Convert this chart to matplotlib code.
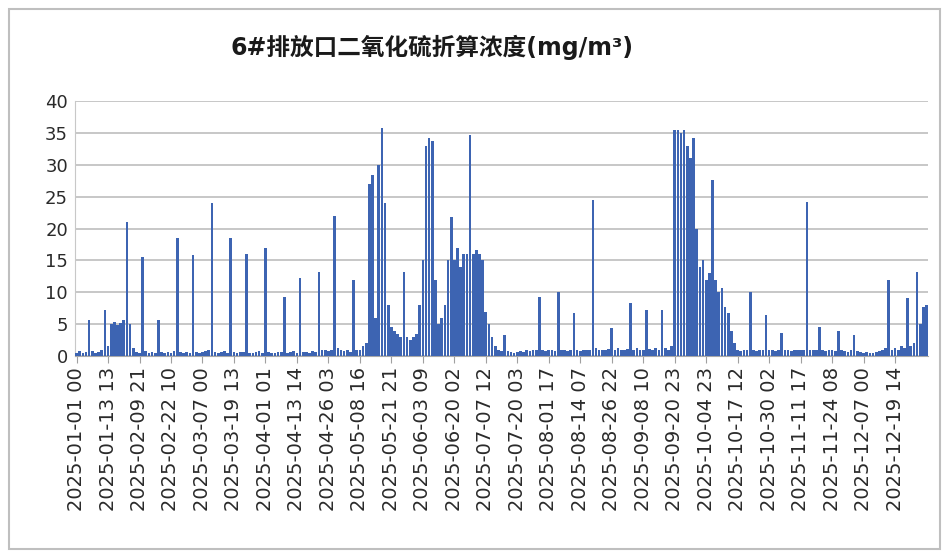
import numpy as np
import matplotlib.pyplot as plt
from matplotlib.patches import Rectangle

plt.rcParams['font.family'] = ['DejaVu Sans', 'Noto Sans CJK SC']

title = "6#排放口二氧化硫折算浓度(mg/m³)"

# category labels shown on the axis (every ~300 hourly records)
tick_labels = ["2025-01-01 00", "2025-01-13 13", "2025-02-09 21", "2025-02-22 10",
               "2025-03-07 00", "2025-03-19 13", "2025-04-01 01", "2025-04-13 14",
               "2025-04-26 03", "2025-05-08 16", "2025-05-21 21", "2025-06-03 09",
               "2025-06-20 02", "2025-07-07 12", "2025-07-20 03", "2025-08-01 17",
               "2025-08-14 07", "2025-08-26 22", "2025-09-08 10", "2025-09-20 23",
               "2025-10-04 23", "2025-10-17 12", "2025-10-30 02", "2025-11-11 17",
               "2025-11-24 08", "2025-12-07 00", "2025-12-19 14"]

# concentration, 10 groups per label interval
so2_jan = [0.4, 0.8, 0.5, 0.6, 5.6, 0.8, 0.5, 0.6, 1.0, 7.2,
           1.5, 5.0, 5.4, 4.8, 5.2, 5.6, 21.0, 5.0, 1.2, 0.6,
           0.5, 15.5, 0.8, 0.4, 0.6, 0.5, 5.6, 0.7, 0.4, 0.6]
so2_mar = [0.5, 0.8, 18.5, 0.6, 0.4, 0.7, 0.5, 15.9, 0.6, 0.5,
           0.6, 0.8, 1.0, 24.0, 0.7, 0.5, 0.6, 0.8, 0.5, 18.5,
           0.6, 0.5, 0.7, 0.6, 16.0, 0.5, 0.4, 0.6, 0.8, 0.5]
so2_apr = [17.0, 0.6, 0.5, 0.4, 0.7, 0.6, 9.3, 0.5, 0.6, 0.8,
           0.5, 12.2, 0.7, 0.6, 0.5, 0.8, 0.6, 13.2, 0.9, 1.0,
           0.8, 1.0, 22.0, 1.2, 0.9, 0.8, 1.0, 0.7, 12.0, 0.9]
so2_may = [1.0, 1.5, 2.0, 27.0, 28.4, 6.0, 30.0, 35.8, 24.0, 8.0,
           4.5, 4.0, 3.5, 3.0, 13.2, 3.0, 2.5, 3.0, 3.5, 8.0,
           15.0, 33.0, 34.2, 33.8, 12.0, 5.0, 6.0, 8.0, 15.0, 21.8]
so2_jun = [15.0, 17.0, 14.0, 16.0, 16.0, 34.7, 16.0, 16.6, 16.0, 15.0,
           6.9, 5.0, 3.0, 1.5, 1.0, 0.8, 3.3, 0.8, 0.6, 0.5,
           0.6, 0.8, 0.7, 0.9, 0.8, 1.0, 0.9, 9.3, 1.0, 0.8]
so2_aug = [0.9, 1.0, 0.8, 10.0, 0.9, 1.0, 0.8, 0.9, 6.7, 1.0,
           0.8, 1.0, 0.9, 1.0, 24.5, 1.2, 1.0, 0.9, 1.0, 1.1,
           4.4, 1.0, 1.2, 0.9, 1.0, 1.1, 8.3, 1.0, 1.2, 1.0]
so2_sep = [1.0, 7.2, 1.1, 1.0, 1.2, 1.0, 7.2, 1.2, 1.0, 1.5,
           35.5, 35.5, 35.0, 35.5, 33.0, 31.0, 34.2, 20.0, 14.0, 15.0,
           12.0, 13.0, 27.6, 12.0, 10.0, 10.6, 7.7, 6.7, 4.0, 2.0]
so2_oct = [1.0, 0.8, 1.0, 0.9, 10.0, 1.0, 0.8, 0.9, 1.0, 6.4,
           0.9, 1.0, 0.8, 1.0, 3.6, 0.9, 1.0, 0.8, 0.9, 1.0,
           0.9, 1.0, 24.2, 1.0, 0.9, 1.0, 4.5, 1.0, 0.8, 0.9]
so2_nov = [1.0, 0.8, 4.0, 0.9, 0.8, 0.7, 0.9, 3.3, 0.8, 0.6,
           0.5, 0.6, 0.4, 0.5, 0.6, 0.8, 1.0, 1.2, 12.0, 1.0,
           1.2, 1.0, 1.5, 1.2, 9.1, 1.5, 2.0, 13.2, 5.0, 7.7,
           8.0]

values = np.array(so2_jan + so2_mar + so2_apr + so2_may + so2_jun
                  + so2_aug + so2_sep + so2_oct + so2_nov)
positions = np.arange(len(values)) / 10.0

fig = plt.figure(figsize=(9.49, 5.58), dpi=100)
ax = fig.add_axes([0.079, 0.362, 0.899, 0.457])

ax.bar(positions, values, width=0.085, color="#3D64B2", linewidth=0, zorder=3)

ax.set_ylim(0, 40)
ax.set_yticks(np.arange(0, 41, 5))
ax.set_xlim(-0.05, 27.05)
ax.set_xticks(np.arange(len(tick_labels)))
ax.set_xticklabels(tick_labels, rotation=90, fontsize=14, color="#2A2A2A")
ax.tick_params(axis="y", labelsize=13, length=0, pad=5, labelcolor="#2A2A2A")
ax.tick_params(axis="x", length=5, color="#A0A0A0", pad=3)

ax.grid(axis="y", color="#BDBDBD", linewidth=1.2, zorder=0)
for side in ["top", "right"]:
    ax.spines[side].set_visible(False)
ax.spines["left"].set_color("#C8C8C8")
ax.spines["bottom"].set_color("#A8A8A8")

fig.text(0.455, 0.915, title, ha="center", va="center", fontsize=17, fontweight="bold", color="#1A1A1A")

# outer chart frame
fig.patches.append(Rectangle((0.009, 0.016), 0.982, 0.968, transform=fig.transFigure,
                             fill=False, edgecolor="#BFBFBF", linewidth=1.5))

fig.savefig("out.png", dpi=100, facecolor="white")
